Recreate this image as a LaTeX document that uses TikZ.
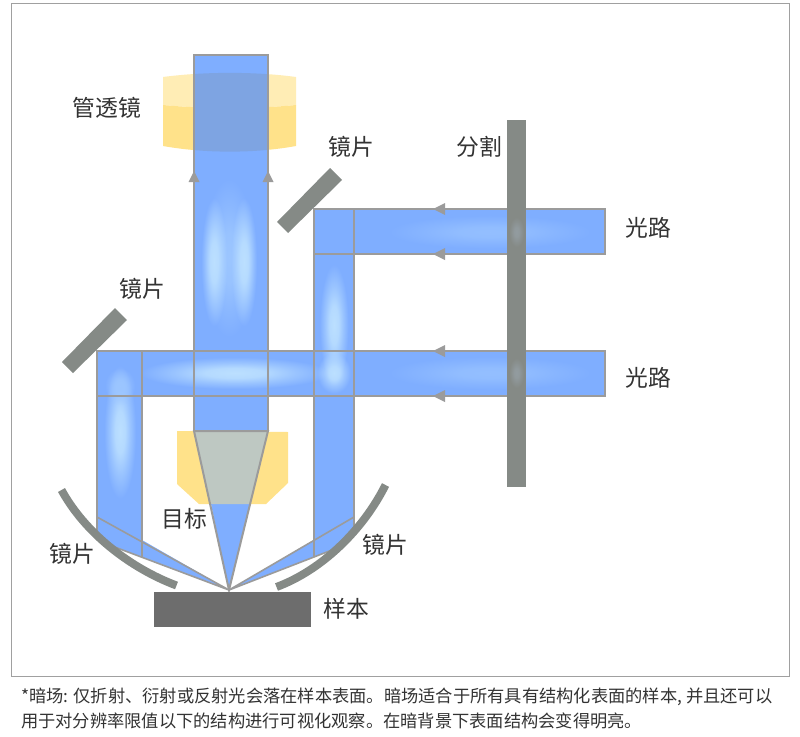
\documentclass[tikz,border=0pt]{standalone}
\usepackage{fontspec}
\usetikzlibrary{fadings}
\setmainfont{Noto Sans CJK SC}
\definecolor{beam}{HTML}{7FAEFF}
\definecolor{edge}{HTML}{9B9B9B}
\definecolor{mirror}{HTML}{858A86}
\definecolor{lenslight}{HTML}{FFEDB5}
\definecolor{lensdark}{HTML}{FFE28A}
\definecolor{lensover}{HTML}{7EA4E2}
\definecolor{glass}{HTML}{BEC8C2}
\definecolor{samplegray}{HTML}{6D6D6D}
\definecolor{ink}{HTML}{333333}
\definecolor{frameline}{HTML}{A0A0A0}
\definecolor{glowa}{HTML}{BCE0FF}
\definecolor{glowb}{HTML}{9CC6FF}
\definecolor{glowc}{HTML}{94BFFF}
\definecolor{glowd}{HTML}{939CA0}
\pgfdeclareradialshading{softglowshade}{\pgfpointorigin}{color(0bp)=(pgftransparent!0); color(6bp)=(pgftransparent!12); color(12bp)=(pgftransparent!55); color(19bp)=(pgftransparent!100); color(50bp)=(pgftransparent!100)}
\pgfdeclarefading{softglow}{\pgfuseshading{softglowshade}}
\newcommand{\glow}[5]{\fill[#5,path fading=softglow] (#1,#2) ellipse [x radius=#3,y radius=#4];}
\tikzset{
  beamline/.style={draw=edge,line width=2pt},
  beamfill/.style={fill=beam},
  tip/.style={fill=edge},
  mirrorbar/.style={fill=mirror},
  mirrorarc/.style={draw=mirror,line width=8pt},
  lbl/.style={text=ink,font=\fontsize{22.8}{26}\selectfont,inner sep=0pt},
  foot/.style={text=ink,font=\fontsize{17.25}{24}\selectfont,inner sep=0pt,anchor=west}
}
\begin{document}
\begin{tikzpicture}[x=1pt,y=-1pt]
\useasboundingbox (0,0) rectangle (800,736);
\fill[white] (0,0) rectangle (800,736);
\draw[frameline,line width=1pt] (11.5,3.5) rectangle (789.5,676.5);
% tube lens
\fill[lenslight] (163,77) .. controls (205,71.5) and (255,71.5) .. (296,77) -- (296,105) .. controls (255,109) and (205,109) .. (163,105) -- cycle;
\fill[lensdark] (163,105) .. controls (205,109) and (255,109) .. (296,105) -- (296,146) .. controls (255,153.5) and (205,153.5) .. (163,146) -- cycle;
% objective
\fill[lensdark] (177,431) -- (288,432) -- (288,483) -- (266,504) -- (199,504) -- (177,484) -- cycle;
% beams
\fill[beamfill] (194,55) rectangle (268,431);
\fill[beamfill] (97,351) rectangle (605,396);
\fill[beamfill] (314,209) rectangle (605,254);
\fill[beamfill] (314,209) -- (354,209) -- (354,528) -- (332,550) -- (314,557) -- cycle;
\fill[beamfill] (97,351) -- (142,351) -- (142,557) -- (112,546) -- (97,533) -- cycle;
\fill[beamfill] (142,540) -- (229,590) -- (142,557) -- cycle;
\fill[beamfill] (314,540) -- (229,590) -- (314,557) -- cycle;
\fill[beamfill] (211,504) -- (250,504) -- (229,590) -- cycle;
% glows
\glow{229}{258}{34}{105}{glowb}
\glow{214}{262}{17}{85}{glowa}
\glow{244}{262}{17}{85}{glowa}
\glow{120}{432}{21}{88}{glowa}
\glow{120}{386}{20}{24}{glowb}
\glow{334}{325}{19}{80}{glowa}
\glow{334}{373}{22}{27}{glowa}
\glow{235}{373}{125}{21}{glowa}
\glow{490}{373}{135}{22}{glowc}
\glow{490}{232}{135}{22}{glowc}
% tube lens overlap
\begin{scope}
\clip (194,55) rectangle (268,170);
\fill[lensover] (163,77) .. controls (205,71.5) and (255,71.5) .. (296,77) -- (296,146) .. controls (255,153.5) and (205,153.5) .. (163,146) -- cycle;
\end{scope}
% objective overlap
\fill[glass] (194,431) -- (268,431) -- (250,504) -- (211,504) -- cycle;
% beam outlines
\draw[beamline] (194,430) -- (194,55) -- (268,55) -- (268,430);
\draw[beamline] (229,590) -- (194,431) -- (268,431) -- cycle;
\draw[beamline] (194,351) -- (605,351) -- (605,396) -- (97,396);
\draw[beamline] (194,351) -- (97,351) -- (97,533);
\draw[beamline] (142,351) -- (142,557);
\draw[beamline] (314,254) -- (605,254) -- (605,209) -- (314,209) -- (314,557);
\draw[beamline] (354,209) -- (354,528);
\draw[beamline,line width=1.6pt] (97,517) -- (229,590) -- (112,546);
\draw[beamline,line width=1.6pt] (354,517) -- (229,590) -- (332,550);
% arrow tips
\fill[tip] (194,171) -- (199.5,182) -- (188.5,182) -- cycle;
\fill[tip] (268,171) -- (273.5,182) -- (262.5,182) -- cycle;
\foreach \yy in {209,254,351,396}
  \fill[tip] (433,\yy) -- (445,\yy-6) -- (445,\yy+6) -- cycle;
% flat mirrors and splitter
\fill[mirrorbar] (330,168) -- (342,180) -- (288,233) -- (277,222) -- cycle;
\fill[mirrorbar] (115,308) -- (127,320) -- (73,373) -- (62,362) -- cycle;
\fill[mirrorbar] (507,120) rectangle (526,487);
\glow{516.5}{232}{10}{20}{glowd}
\glow{516.5}{373}{10}{20}{glowd}
% curved mirrors
\draw[mirrorarc] (61.5,490) .. controls (85,533) and (130,568) .. (176.5,585.5);
\draw[mirrorarc] (385.5,485) .. controls (363,530) and (322,570) .. (276.5,587);
% sample
\fill[samplegray] (154,592) rectangle (311,627);
% labels
\node[lbl] (tube) at (107,108) {管透镜};
\node[lbl] (m1) at (351,147) {镜片};
\node[lbl] (split) at (479,147) {分割};
\node[lbl] (m2) at (142,289) {镜片};
\node[lbl] (path1) at (648,228) {光路};
\node[lbl] (path2) at (648,378) {光路};
\node[lbl] (obj) at (184,519) {目标};
\node[lbl] (m3) at (72,554) {镜片};
\node[lbl] (m4) at (385,545) {镜片};
\node[lbl] (samp) at (346,609) {样本};
\node[foot] (f1) at (21,697) {*暗场: 仅折射、衍射或反射光会落在样本表面。暗场适合于所有具有结构化表面的样本, 并且还可以};
\node[foot] (f2) at (21,721) {用于对分辨率限值以下的结构进行可视化观察。在暗背景下表面结构会变得明亮。};
\end{tikzpicture}
\end{document}
